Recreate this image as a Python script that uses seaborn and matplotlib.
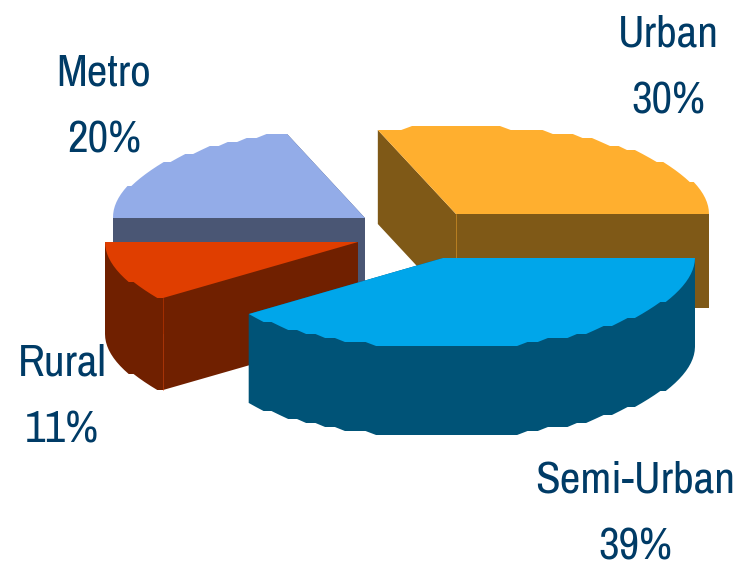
import numpy as np
import matplotlib
matplotlib.use("Agg")
import matplotlib.pyplot as plt
import matplotlib.font_manager as fm
import seaborn as sns

# Share of each market segment, in percent, counter-clockwise from due east
categories = ["Urban", "Metro", "Rural", "Semi-Urban"]
shares = [30, 20, 11, 39]

# Colours per segment: lit top face, shaded side wall
top_colors = ["#FFAF2F", "#93ACE8", "#E03E00", "#00A6EA"]
wall_colors = ["#7F5917", "#4A5674", "#702000", "#005377"]
text_color = "#003B66"

# Layout in figure pixels
centers = {"Urban": (456, 214), "Metro": (365, 218), "Rural": (358, 242), "Semi-Urban": (443, 258)}
radius_x = {"Urban": 253, "Metro": 252, "Rural": 253, "Semi-Urban": 252}
radius_y = {"Urban": 88, "Metro": 90, "Rural": 90, "Semi-Urban": 90}
depths = {"Urban": 94, "Metro": 92, "Rural": 92, "Semi-Urban": 89}
label_pos = {"Urban": (668, 68), "Metro": (104, 107), "Rural": (62, 397), "Semi-Urban": (635, 514)}
draw_order = ["Metro", "Urban", "Rural", "Semi-Urban"]

sns.set_theme(style="white")

# A narrow grotesque when present, otherwise a smaller regular sans
available = {f.name for f in fm.fontManager.ttflist}
if "Archivo Narrow" in available:
    label_font, label_size = "Archivo Narrow", 32.5
else:
    label_font, label_size = "Liberation Sans", 27
plt.rcParams["font.family"] = [label_font, "DejaVu Sans"]

fig = plt.figure(figsize=(7.47, 5.67), dpi=100)
ax = fig.add_axes([0, 0, 1, 1])
ax.set_xlim(0, 747)
ax.set_ylim(567, 0)
ax.axis("off")


def arc(name, start, stop):
    """Stepped elliptical arc of a slice, between two angles in degrees."""
    cx, cy = centers[name]
    theta = np.radians(np.arange(start, stop, 2.5).tolist() + [stop])
    x = cx + radius_x[name] * np.cos(theta)
    dy = radius_y[name] * np.sin(theta)
    return x, cy - np.round(dy / 4) * 4


ends = np.cumsum(shares) * 3.6
starts = ends - np.array(shares) * 3.6
spans = {n: (s, e) for n, s, e in zip(categories, starts, ends)}

for name in draw_order:
    i = categories.index(name)
    start, stop = spans[name]
    cx, cy = centers[name]
    depth = depths[name]
    x, y = arc(name, start, stop)

    # Straight walls along both cut edges
    for edge in (0, -1):
        ax.fill([cx, x[edge], x[edge], cx], [cy, y[edge], y[edge] + depth, cy + depth],
                color=wall_colors[i], lw=0, zorder=i)

    # Curved rim, only where the slice faces the viewer
    lo, hi = max(start, 180), min(stop, 360)
    if hi > lo:
        rx, ry = arc(name, lo, hi)
        ax.fill(np.r_[rx, rx[::-1]], np.r_[ry, ry[::-1] + depth],
                color=wall_colors[i], lw=0, zorder=i)

    # Fine highlight down the inner corner
    if name in ("Urban", "Rural"):
        corner_x = cx if name == "Urban" else x[-1]
        corner_y = cy if name == "Urban" else y[-1]
        ax.plot([corner_x, corner_x], [corner_y, corner_y + depth],
                color=top_colors[i], lw=0.7, alpha=0.45, zorder=i)

    ax.fill(np.r_[cx, x], np.r_[cy, y], color=top_colors[i], lw=0, zorder=i)

    lx, ly = label_pos[name]
    ax.text(lx, ly, f"{name}\n{shares[i]}%", ha="center", va="center", ma="center",
            fontsize=label_size, color=text_color, linespacing=1.85, zorder=10)

fig.savefig("out.png", dpi=100)
